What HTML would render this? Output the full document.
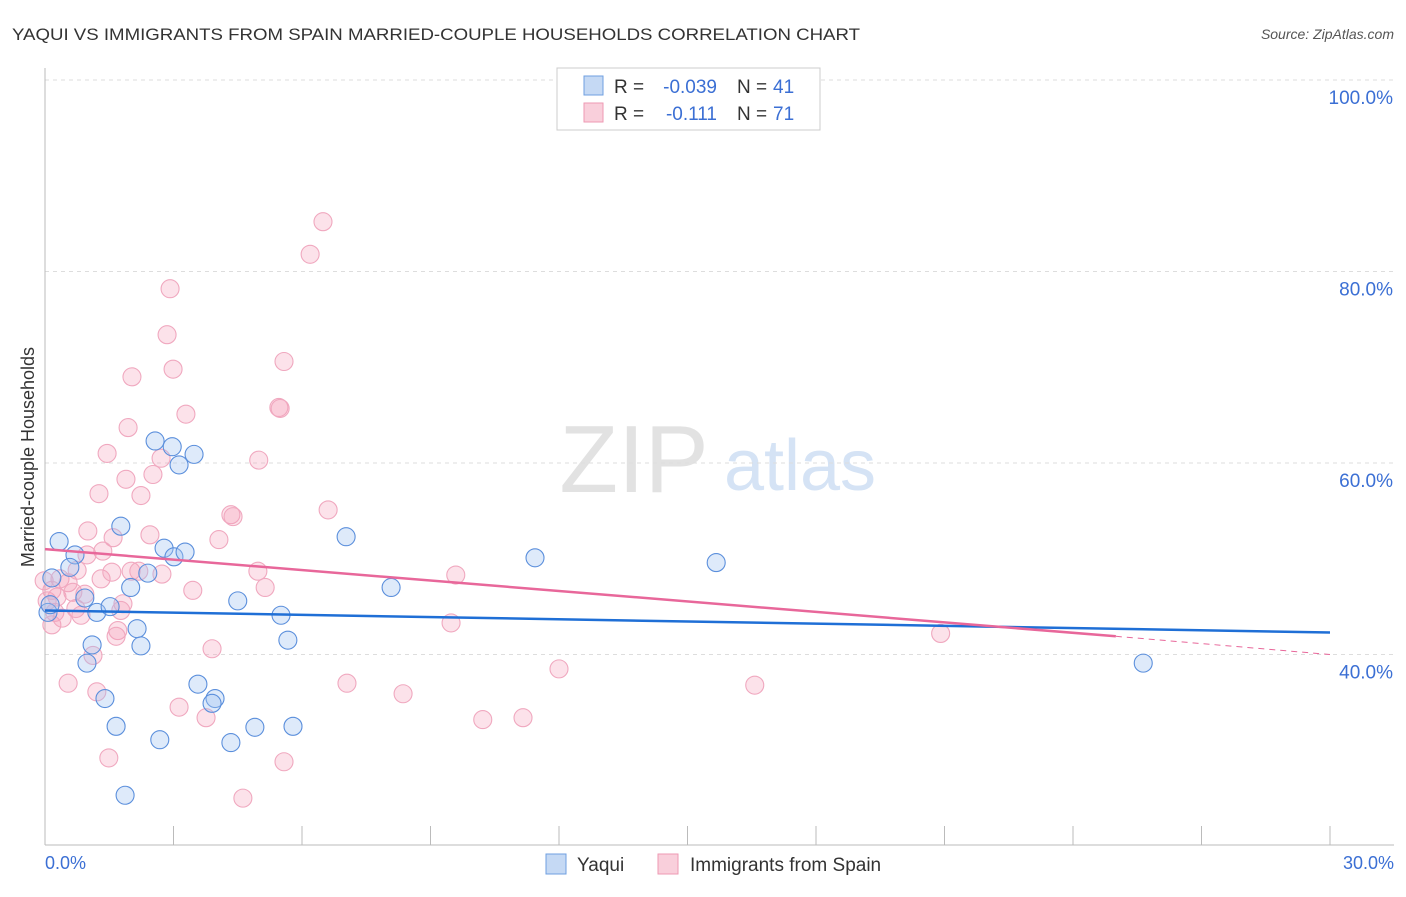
<!DOCTYPE html>
<html><head><meta charset="utf-8"><style>
body{margin:0;background:#fff;font-family:"Liberation Sans",sans-serif}
svg text{font-family:"Liberation Sans",sans-serif}
</style></head><body>
<svg id="chart" width="1406" height="892">
<text x="12" y="40" font-size="17" fill="#333" textLength="848" lengthAdjust="spacingAndGlyphs">YAQUI VS IMMIGRANTS FROM SPAIN MARRIED-COUPLE HOUSEHOLDS CORRELATION CHART</text>
<text x="1394" y="39" font-size="14" font-style="italic" fill="#555" text-anchor="end">Source: ZipAtlas.com</text>
<text x="634" y="492" font-size="96" font-family="Liberation Serif" fill="#e2e2e2" text-anchor="middle">ZIP</text>
<text x="800" y="490" font-size="72" fill="#d5e3f5" text-anchor="middle">atlas</text>
<g id="grid"></g>
<line x1="45" y1="68" x2="45" y2="845" stroke="#bbb"/>
<line x1="45" y1="845" x2="1394" y2="845" stroke="#bbb"/>
<text transform="translate(34,457) rotate(-90)" font-size="18" fill="#333" text-anchor="middle">Married-couple Households</text>
<text x="45" y="869" font-size="18" fill="#3b6fd4">0.0%</text>
<text x="1394" y="869" font-size="18" fill="#3b6fd4" text-anchor="end">30.0%</text>
<g id="points"></g>
<g id="lines"></g>
<g>
<rect x="557" y="68" width="263" height="62" fill="#fff" stroke="#ccc"/>
<rect x="584" y="76" width="19" height="19" fill="#c5d9f4" stroke="#6f9fe0"/>
<rect x="584" y="103" width="19" height="19" fill="#f9cfdb" stroke="#ee9ab3"/>
<text x="614" y="93" font-size="19" fill="#333">R =</text>
<text x="717" y="93" font-size="19" fill="#3b6fd4" text-anchor="end">-0.039</text>
<text x="737" y="93" font-size="19" fill="#333">N =</text>
<text x="773" y="93" font-size="19" fill="#3b6fd4">41</text>
<text x="614" y="120" font-size="19" fill="#333">R =</text>
<text x="717" y="120" font-size="19" fill="#3b6fd4" text-anchor="end">-0.111</text>
<text x="737" y="120" font-size="19" fill="#333">N =</text>
<text x="773" y="120" font-size="19" fill="#3b6fd4">71</text>
</g>
<g>
<rect x="546" y="854" width="20" height="20" fill="#c5d9f4" stroke="#6f9fe0"/>
<text x="577" y="871" font-size="19" fill="#333">Yaqui</text>
<rect x="658" y="854" width="20" height="20" fill="#f9cfdb" stroke="#ee9ab3"/>
<text x="690" y="871" font-size="19" fill="#333">Immigrants from Spain</text>
</g>
</svg>
<script>
const yTicks=[40,60,80,100];
const xTickVals=[0,3,6,9,12,15,18,21,24,27,30];
const yaquiX=[0.33,0.7,0.58,0.16,0.07,1.77,2.4,2.0,1.21,1.52,2.15,2.24,1.1,0.98,1.4,1.66,1.87,2.68,2.57,2.97,3.13,3.48,2.78,3.01,3.27,4.5,3.57,3.97,3.9,4.34,4.9,5.79,5.51,5.67,7.03,8.08,11.44,15.67,25.64,0.12,0.93];
const yaquiY=[51.8,50.4,49.1,48.0,44.4,53.4,48.5,47.0,44.4,45.0,42.7,40.9,41.0,39.1,35.4,32.5,25.3,31.1,62.3,61.7,59.8,60.9,51.1,50.2,50.7,45.6,36.9,35.4,34.9,30.8,32.4,32.5,44.1,41.5,52.3,47.0,50.1,49.6,39.1,45.2,45.9];
const spainX=[6.49,6.19,2.92,2.85,5.58,2.99,2.03,5.46,5.49,3.29,1.94,1.45,2.71,4.99,2.52,1.26,1.89,2.24,4.34,6.61,4.39,1.0,2.45,4.06,1.59,1.35,0.98,0.35,0.54,1.31,0.65,0.93,1.56,2.01,2.19,2.73,4.97,5.14,3.45,9.59,0.84,0.72,1.82,1.77,1.7,1.66,0.23,0.16,3.9,9.48,20.91,1.12,0.54,1.21,7.05,8.36,12.0,16.57,3.13,3.76,10.22,11.16,1.49,5.58,4.62,0.05,0.16,0.28,0.4,-0.02,0.75];
const spainY=[85.2,81.8,78.2,73.4,70.6,69.8,69.0,65.8,65.7,65.1,63.7,61.0,60.5,60.3,58.8,56.8,58.3,56.6,54.6,55.1,54.4,52.9,52.5,52.0,52.2,50.8,50.4,47.9,47.5,47.9,46.5,46.3,48.6,48.7,48.7,48.4,48.7,47.0,46.7,48.3,44.1,44.8,45.3,44.6,42.5,41.9,44.4,43.1,40.6,43.3,42.2,39.9,37.0,36.1,37.0,35.9,38.5,36.8,34.5,33.4,33.2,33.4,29.2,28.8,25.0,45.6,46.7,46.0,43.8,47.7,48.8];
const trendYaqui=[44.6,42.3];
const trendSpain=[51.0,41.9,40.0];
const xs=v=>45+v/30*1285;
const ys=v=>80+(100-v)*9.575;
const NS='http://www.w3.org/2000/svg';
function mk(tag,attrs,parent){const e=document.createElementNS(NS,tag);for(const k in attrs)e.setAttribute(k,attrs[k]);document.getElementById(parent).appendChild(e);return e;}
yTicks.forEach(t=>{
 const l=mk('line',{x1:45,x2:1394,y1:ys(t),y2:ys(t),stroke:'#ddd','stroke-dasharray':'4,4'},'grid');
 
 
 const tx=mk('text',{x:1393,y:ys(t)+24,'font-size':19,fill:'#3b6fd4','text-anchor':'end'},'grid');
 tx.textContent=t.toFixed(1)+'%';
 
 
});
xTickVals.forEach(t=>{
 const l=mk('line',{x1:xs(t),x2:xs(t),y1:826,y2:845,stroke:'#bbb'},'grid');
 
 
});
spainX.forEach((x,i)=>{
 const c=mk('circle',{cx:xs(x),cy:ys(spainY[i]),r:9,fill:'rgba(244,160,185,0.3)',stroke:'#f0a8bf','stroke-width':1.1},'points');
 
 
});
yaquiX.forEach((x,i)=>{
 const c=mk('circle',{cx:xs(x),cy:ys(yaquiY[i]),r:9,fill:'rgba(160,195,240,0.35)',stroke:'#5b8fdc','stroke-width':1.1},'points');
 
 
});
let l=mk('line',{x1:xs(0),y1:ys(trendYaqui[0]),x2:xs(30),y2:ys(trendYaqui[1]),stroke:'#1f6fd6','stroke-width':2.5},'lines');


l=mk('line',{x1:xs(0),y1:ys(trendSpain[0]),x2:xs(25),y2:ys(trendSpain[1]),stroke:'#e8679a','stroke-width':2.5},'lines');


l=mk('line',{x1:xs(25),y1:ys(trendSpain[1]),x2:xs(30),y2:ys(trendSpain[2]),stroke:'#e8679a','stroke-width':1,'stroke-dasharray':'6,5'},'lines');


</script>
</body></html>
